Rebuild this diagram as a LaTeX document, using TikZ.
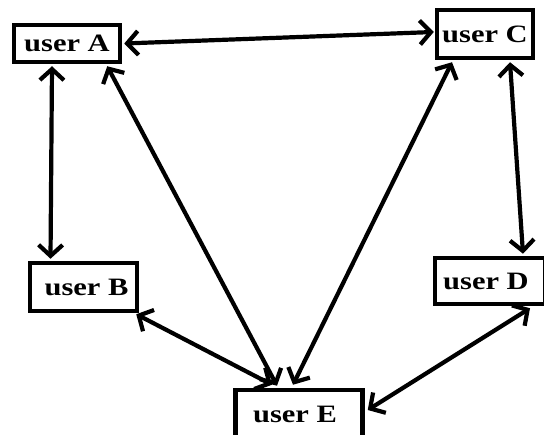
\documentclass[tikz,border=0pt]{standalone}
\usepackage{fontspec}
\setmainfont{Liberation Serif}[FakeStretch=1.22]
\usetikzlibrary{arrows.meta,calc}
\begin{document}
\begin{tikzpicture}[x=1pt,y=-1pt,
  user/.style={draw,line width=4.5pt,rectangle,inner sep=0pt,font=\fontsize{25}{26}\selectfont\bfseries},
  link/.style={line width=4.2pt,{Straight Barb[length=11pt,width=24pt,line width=4.2pt]}-{Straight Barb[length=11pt,width=24pt,line width=4.2pt]}}]
\useasboundingbox[fill=white] (0,0) rectangle (544,435);
\node[user,minimum width=106pt,minimum height=37pt] (A) at (67,43.5) {user A};
\node[user,minimum width=96pt,minimum height=48pt] (C) at (485,34) {user C};
\node[user,minimum width=107pt,minimum height=48pt] (B) at (83.5,287) {\hspace*{6pt}user B};
\node[user,minimum width=110pt,minimum height=46pt] (D) at (490,281) {user D\hspace*{8pt}};
\node[user,minimum width=127pt,minimum height=48pt] (E) at (299,414) {user E\hspace*{8pt}};
\draw[link] ($(A.east)+(2,0)$) -- ($(C.west)+(-1,-2)$);
\draw[link] ($(A.south)+(-15,2)$) -- ($(B.north)+(-33,-2)$);
\draw[link] ($(A.south east)+(-15,2)$) -- ($(E.north)+(-22,-2)$);
\draw[link] ($(C.south)+(-33,2)$) -- ($(E.north)+(-6,-3)$);
\draw[link] ($(C.south)+(25,2)$) -- ($(D.north)+(33,-2)$);
\draw[link] ($(B.south east)+(-3,1)$) -- ($(E.north)+(-27,-3)$);
\draw[link] ($(D.south)+(40,2)$) -- ($(E.east)+(3,-4)$);
\end{tikzpicture}
\end{document}
